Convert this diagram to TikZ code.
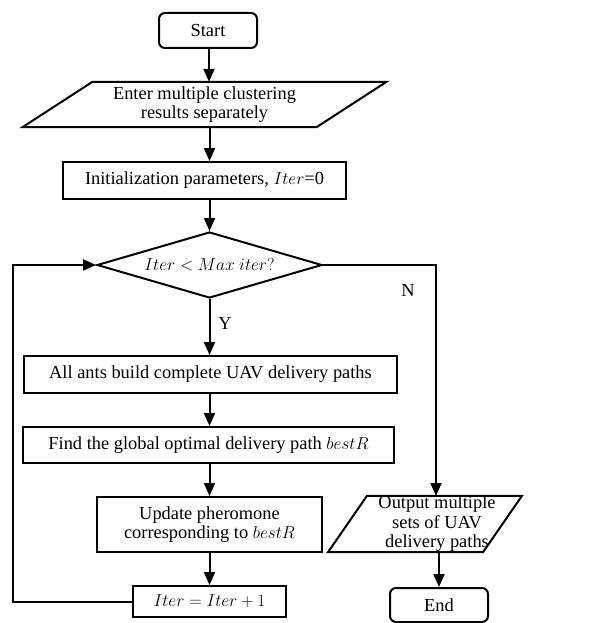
\documentclass[tikz,border=0pt]{standalone}
\usepackage{fontspec}
\setmainfont{Liberation Serif}
\usetikzlibrary{arrows.meta,shapes.geometric}
\begin{document}
\begin{tikzpicture}[x=1pt,y=-1pt,
  every node/.style={font=\fontsize{18.4}{19.5}\selectfont, inner sep=0pt},
  ln/.style={line width=2pt},
  arr/.style={ln,-{Triangle[length=13pt,width=11pt]}},
  box/.style={draw,ln,rectangle},
  term/.style={draw,ln,rectangle,rounded corners=6pt},
  lbl/.style={font=\fontsize{18.4}{20}\selectfont}]
\useasboundingbox (0,0) rectangle (598,623);
\node[term,minimum width=98pt,minimum height=35pt] (start) at (208,30.5) {Start};
\node[align=center,minimum height=45pt] (input) at (204.5,104.5) {Enter multiple clustering\\results separately};
\draw[ln,line join=miter] ([xshift=-112pt]input.north) -- ([xshift=182pt]input.north) -- ([xshift=112pt]input.south) -- ([xshift=-182pt]input.south) -- cycle;
\node[box,minimum width=283pt,minimum height=37pt] (init) at (204.5,180.5) {Initialization parameters, $Iter$=0};
\node[draw,ln,diamond,shape aspect=3.4,minimum width=225pt,minimum height=66pt] (dec) at (209.5,265) {$Iter<Max\ iter?$};
\node[box,minimum width=373pt,minimum height=37pt] (ants) at (210.5,374.5) {All ants build complete UAV delivery paths};
\node[box,minimum width=371pt,minimum height=36pt] (find) at (208.5,445) {Find the global optimal delivery path $bestR$};
\node[box,align=center,minimum width=225pt,minimum height=55pt] (upd) at (209.5,524.5) {Update pheromone\\corresponding to $bestR$};
\node[box,minimum width=153pt,minimum height=31pt] (iter) at (209.5,601.5) {$Iter=Iter+1$};
\node[align=center,minimum height=56pt] (out) at (437,524) {Output multiple\\sets of UAV\\delivery paths};
\draw[ln] ([xshift=-70pt]out.north) -- ([xshift=85pt]out.north) -- ([xshift=46pt]out.south) -- ([xshift=-109pt]out.south) -- cycle;
\node[term,minimum width=98pt,minimum height=34pt] (end) at (439,605) {End};
\node[lbl] (nlab) at (408,290) {N};
\node[lbl] (ylab) at (225,323) {Y};
\draw[arr] ([xshift=1pt]start.south) -- ([xshift=1pt]start.south |- input.north);
\draw[arr] (dec.north |- input.south) -- (dec.north |- init.north);
\draw[arr] (dec.north |- init.south) -- (dec.north);
\draw[arr] (dec.south) -- (dec.south |- ants.north);
\draw[arr] (dec.south |- ants.south) -- (dec.south |- find.north);
\draw[arr] (dec.south |- find.south) -- (upd.north);
\draw[arr] (upd.south) -- (iter.north);
\draw[arr] (iter.west) -- ++(-119,0) |- (dec.west);
\draw[arr] (dec.east) -- ++(113,0) -- ++(0,231);
\draw[arr] (end.north |- out.south) -- (end.north);
\end{tikzpicture}
\end{document}
